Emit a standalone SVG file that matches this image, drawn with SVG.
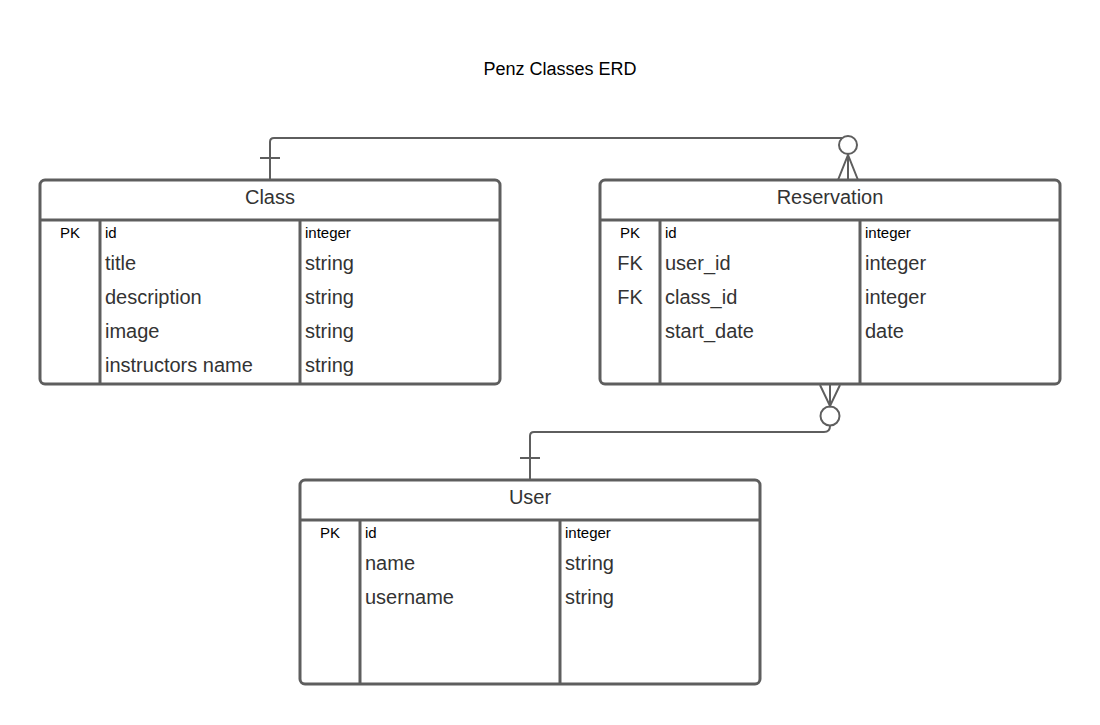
<svg xmlns="http://www.w3.org/2000/svg" width="1100" height="725" viewBox="0 0 1100 725">
<style>
.box{fill:#fff;stroke:#5e5e5e;stroke-width:3}
.ln{stroke:#5e5e5e;stroke-width:3;fill:none}
.cn{stroke:#5e5e5e;stroke-width:2;fill:none}
.hd{font-family:"Liberation Sans",Arial,sans-serif;font-size:20px;fill:#333;text-anchor:middle}
.sm{font-family:"Liberation Sans",Arial,sans-serif;font-size:15px;fill:#000}
.md{font-family:"Liberation Sans",Arial,sans-serif;font-size:20px;fill:#333}
.c{text-anchor:middle}
.ttl{font-family:"Liberation Sans",Arial,sans-serif;font-size:18px;fill:#000;text-anchor:middle}
</style>
<rect width="1100" height="725" fill="#fff"/>
<text class="ttl" x="560" y="75">Penz Classes ERD</text>
<g id="connectors">
<path class="cn" d="M270,180 V142 Q270,138 274,138 H842"/>
<line class="cn" x1="260" y1="158" x2="280" y2="158"/>
<circle class="cn" cx="848" cy="145" r="9" fill="#fff"/>
<path class="cn" d="M838,180 L848,155 L858,180 M848,155 V180"/>
<path class="cn" d="M820,385 L830,406 L840,385 M830,406 V385"/>
<circle class="cn" cx="830" cy="416" r="9.5" fill="#fff"/>
<path class="cn" d="M830,426 Q830,432 824,432 H534 Q530,432 530,436 V480"/>
<line class="cn" x1="520" y1="458" x2="540" y2="458"/>
</g>
<g id="class">
<rect class="box" x="40" y="180" width="460" height="204" rx="5"/>
<line class="ln" x1="40" y1="220" x2="500" y2="220"/>
<line class="ln" x1="100" y1="220" x2="100" y2="384"/>
<line class="ln" x1="300" y1="220" x2="300" y2="384"/>
<text class="hd" x="270" y="204">Class</text>
<text class="sm c" x="70" y="238">PK</text>
<text class="sm" x="105" y="238">id</text>
<text class="sm" x="305" y="238">integer</text>
<text class="md" x="105" y="270">title</text>
<text class="md" x="305" y="270">string</text>
<text class="md" x="105" y="304">description</text>
<text class="md" x="305" y="304">string</text>
<text class="md" x="105" y="338">image</text>
<text class="md" x="305" y="338">string</text>
<text class="md" x="105" y="372">instructors name</text>
<text class="md" x="305" y="372">string</text>
</g>
<g id="reservation">
<rect class="box" x="600" y="180" width="460" height="204" rx="5"/>
<line class="ln" x1="600" y1="220" x2="1060" y2="220"/>
<line class="ln" x1="660" y1="220" x2="660" y2="384"/>
<line class="ln" x1="860" y1="220" x2="860" y2="384"/>
<text class="hd" x="830" y="204">Reservation</text>
<text class="sm c" x="630" y="238">PK</text>
<text class="sm" x="665" y="238">id</text>
<text class="sm" x="865" y="238">integer</text>
<text class="md c" x="630" y="270">FK</text>
<text class="md" x="665" y="270">user_id</text>
<text class="md" x="865" y="270">integer</text>
<text class="md c" x="630" y="304">FK</text>
<text class="md" x="665" y="304">class_id</text>
<text class="md" x="865" y="304">integer</text>
<text class="md" x="665" y="338">start_date</text>
<text class="md" x="865" y="338">date</text>
</g>
<g id="user">
<rect class="box" x="300" y="480" width="460" height="204" rx="5"/>
<line class="ln" x1="300" y1="520" x2="760" y2="520"/>
<line class="ln" x1="360" y1="520" x2="360" y2="684"/>
<line class="ln" x1="560" y1="520" x2="560" y2="684"/>
<text class="hd" x="530" y="504">User</text>
<text class="sm c" x="330" y="538">PK</text>
<text class="sm" x="365" y="538">id</text>
<text class="sm" x="565" y="538">integer</text>
<text class="md" x="365" y="570">name</text>
<text class="md" x="565" y="570">string</text>
<text class="md" x="365" y="604">username</text>
<text class="md" x="565" y="604">string</text>
</g>
</svg>
